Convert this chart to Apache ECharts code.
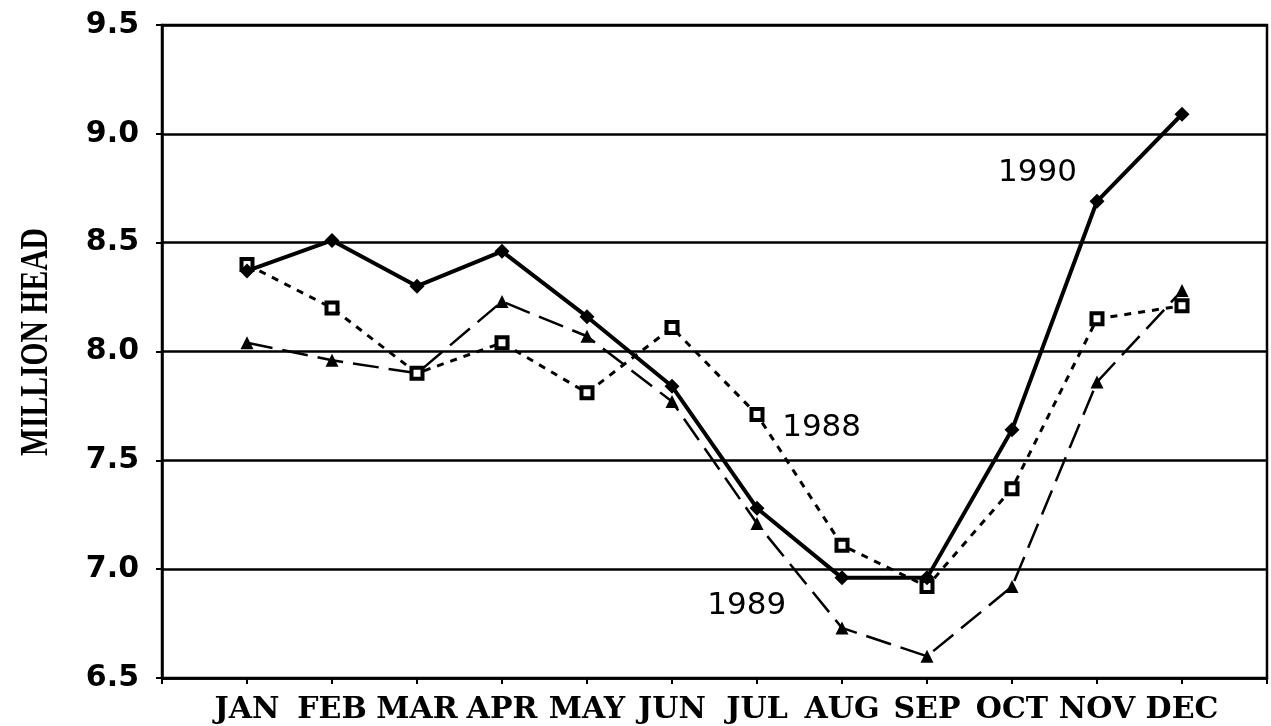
<!DOCTYPE html>
<html>
<head>
<meta charset="utf-8">
<script src="https://cdn.jsdelivr.net/npm/echarts@6/dist/echarts.min.js"></script>
<style>
  html, body { margin: 0; padding: 0; background: #fff; }
  #chart { width: 1271px; height: 726px; }
</style>
</head>
<body>
<div id="chart"></div>
<script>
// month labels + three years of values (million head)
var months = ['JAN', 'FEB', 'MAR', 'APR', 'MAY', 'JUN', 'JUL', 'AUG', 'SEP', 'OCT', 'NOV', 'DEC']
var y1988 = [8.40, 8.20, 7.90, 8.04, 7.81, 8.11, 7.71, 7.11, 6.92, 7.37, 8.15, 8.21]
var y1989 = [8.04, 7.96, 7.90, 8.23, 8.07, 7.77, 7.21, 6.73, 6.60, 6.92, 7.86, 8.28]
var y1990 = [8.37, 8.51, 8.30, 8.46, 8.16, 7.84, 7.28, 6.96, 6.96, 7.64, 8.69, 9.09]
// year labels placed in data space [month position, value]
var yearLabels = [
  { name: '1988', coord: [7.76, 7.65] },
  { name: '1989', coord: [6.88, 6.83] },
  { name: '1990', coord: [10.3, 8.82] }
]

function pairs(arr) {
  return arr.map(function (v, i) { return [i + 1, v] })
}

function labelPoint(name) {
  var l = yearLabels.filter(function (d) { return d.name === name })[0]
  return {
    symbol: 'rect',
    symbolSize: 1,
    itemStyle: { color: 'rgba(0,0,0,0)' },
    label: {
      show: true,
      position: 'inside',
      formatter: l.name,
      color: '#000',
      fontFamily: 'DejaVu Sans',
      fontSize: 31
    },
    data: [{ coord: l.coord }]
  }
}

var myChart = echarts.init(document.getElementById('chart'))

var option = {
  backgroundColor: '#fff',
  animation: false,
  grid: {
    left: 162,
    right: 4,
    top: 25,
    bottom: 48,
    show: true,
    borderColor: '#000',
    borderWidth: 2.5
  },
  xAxis: {
    type: 'value',
    min: 0,
    max: 13,
    interval: 1,
    axisLine: { show: true, lineStyle: { color: '#000', width: 2.5 } },
    axisTick: { show: true, length: 6, lineStyle: { color: '#000', width: 2 } },
    splitLine: { show: false },
    axisLabel: {
      margin: 17,
      color: '#000',
      fontFamily: 'DejaVu Serif',
      fontWeight: 'bold',
      fontSize: 30,
      formatter: function (v) {
        return months[v - 1] || ''
      }
    }
  },
  yAxis: {
    type: 'value',
    min: 6.5,
    max: 9.5,
    interval: 0.5,
    axisLine: { show: true, lineStyle: { color: '#000', width: 2.5 } },
    axisTick: { show: true, length: 6, lineStyle: { color: '#000', width: 2 } },
    splitLine: { show: true, lineStyle: { color: '#000', width: 2.5 } },
    axisLabel: {
      margin: 23,
      color: '#000',
      fontFamily: 'DejaVu Sans',
      fontWeight: 'bold',
      fontSize: 30,
      formatter: function (v) { return v.toFixed(1) }
    }
  },
  graphic: [
    {
      type: 'text',
      x: 17,
      y: 342,
      rotation: Math.PI / 2,
      scaleX: 0.74,
      style: {
        text: 'MILLION HEAD',
        fill: '#000',
        font: 'bold 40px "Liberation Serif"',
        textAlign: 'center',
        textVerticalAlign: 'top'
      }
    }
  ],
  series: [
    {
      name: '1989',
      type: 'line',
      data: pairs(y1989),
      symbol: 'triangle',
      symbolSize: 13,
      itemStyle: { color: '#000' },
      lineStyle: { color: '#000', width: 2.5, type: [26, 10] },
      markPoint: labelPoint('1989')
    },
    {
      name: '1988',
      type: 'line',
      data: pairs(y1988),
      symbol: 'rect',
      symbolSize: 11,
      itemStyle: { color: '#fff', borderColor: '#000', borderWidth: 4 },
      lineStyle: { color: '#000', width: 3, type: [7, 7] },
      markPoint: labelPoint('1988')
    },
    {
      name: '1990',
      type: 'line',
      data: pairs(y1990),
      symbol: 'diamond',
      symbolSize: 15,
      itemStyle: { color: '#000' },
      lineStyle: { color: '#000', width: 4 },
      markPoint: labelPoint('1990')
    }
  ]
}

option && myChart.setOption(option)
</script>
</body>
</html>
